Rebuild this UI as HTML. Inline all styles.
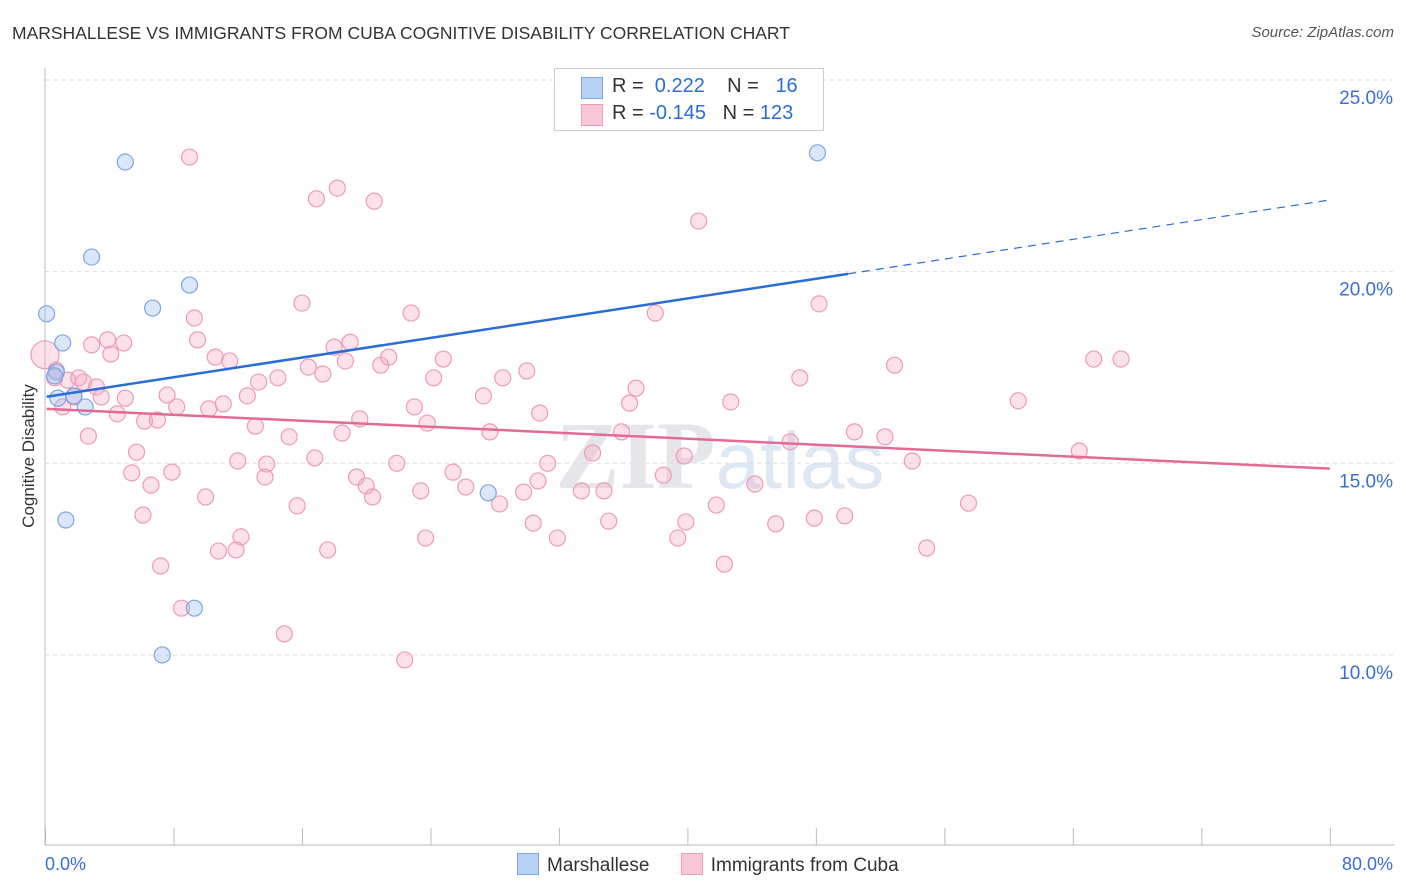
<!DOCTYPE html>
<html><head><meta charset="utf-8"><style>
body{margin:0;background:#fff;font-family:"Liberation Sans",sans-serif;}
#wrap{position:relative;width:1406px;height:892px;overflow:hidden;}
.t{position:absolute;white-space:nowrap;}
</style></head><body>
<div id="wrap">
<div class="t" style="left:12px;top:23px;font-size:17.5px;color:#333;">MARSHALLESE VS IMMIGRANTS FROM CUBA COGNITIVE DISABILITY CORRELATION CHART</div>
<div class="t" style="right:12px;top:24px;font-size:15px;color:#555;font-style:italic;">Source: ZipAtlas.com</div>
<svg id="svg" width="1406" height="892" style="position:absolute;left:0;top:0"></svg>
</div>
<script>
const xTicks=[0,8,16,24,32,40,48,56,64,72,80];
const yTicks=[10,15,20,25];
const yTickLabels=["10.0%","15.0%","20.0%","25.0%"];
const blueX=[0.1,1.1,0.7,0.8,1.8,2.5,0.6,5.0,2.9,6.7,9.0,1.3,9.3,7.3,27.6,48.1];
const blueY=[18.9,18.14,17.38,16.7,16.76,16.47,17.28,22.86,20.38,19.05,19.65,13.52,11.22,10.0,14.23,23.1];
const pinkX=[9.0,16.9,18.2,20.5,40.7,16.0,22.8,9.3,38.0,48.2,0,3.9,2.9,4.9,9.5,4.1,10.6,11.5,18.0,19.0,18.7,20.9,21.4,24.8,16.4,17.3,0.7,1.4,2.1,3.2,2.4,0.6,1.1,1.8,3.5,5.0,7.6,8.2,13.3,14.5,12.6,11.1,10.2,24.2,28.5,30.0,36.8,36.4,42.7,47.0,52.9,65.3,67.0,60.6,27.3,23.0,23.8,30.8,19.6,4.5,6.2,7.0,2.7,13.1,15.2,18.5,27.7,35.9,46.4,50.4,52.3,64.4,54.0,5.7,13.8,16.8,21.9,31.3,39.8,12.0,5.4,7.9,13.7,19.4,20.0,25.4,26.2,30.7,34.1,6.6,10.0,15.7,20.4,23.4,29.8,28.3,33.4,34.8,38.5,44.2,41.8,57.5,6.1,35.1,39.9,45.5,47.9,49.8,30.4,31.9,39.4,12.2,10.8,11.9,17.6,23.7,54.9,7.2,42.3,8.5,14.9,22.4];
const pinkY=[22.99,21.9,22.18,21.84,21.32,19.18,18.92,18.79,18.92,19.16,17.83,18.22,18.09,18.14,18.22,17.85,17.77,17.67,18.03,18.16,17.67,17.56,17.77,17.72,17.51,17.33,17.43,17.17,17.23,16.99,17.12,17.23,16.47,16.73,16.73,16.7,16.78,16.47,17.12,17.23,16.76,16.55,16.42,17.23,17.23,17.41,16.96,16.57,16.6,17.23,17.56,17.72,17.72,16.63,16.76,16.47,16.05,16.31,16.16,16.29,16.1,16.13,15.71,15.97,15.69,15.79,15.82,15.82,15.56,15.82,15.69,15.32,15.06,15.29,14.98,15.14,15.0,15.0,15.19,15.06,14.75,14.77,14.64,14.64,14.41,14.77,14.38,14.54,15.27,14.43,14.12,13.89,14.12,14.28,14.25,13.94,14.28,14.28,14.69,14.46,13.91,13.96,13.65,13.49,13.47,13.42,13.57,13.63,13.44,13.05,13.05,13.08,12.71,12.74,12.74,13.05,12.79,12.32,12.37,11.22,10.55,9.87];
const blueTrend=[16.73,21.87]; const blueSolidEnd=50;
const pinkTrend=[16.42,14.86];
const X=v=>45+v*16.06, Y=v=>80+(25-v)*38.33;
const svg=document.getElementById('svg');const NS='http://www.w3.org/2000/svg';
function mk(tag,attrs,parent){const e=document.createElementNS(NS,tag);for(const k in attrs)e.setAttribute(k,attrs[k]);(parent||svg).appendChild(e);return e;}
let wm=mk('text',{x:720,y:488,'text-anchor':'middle','font-size':96,'font-family':'Liberation Serif,serif','fill':'#e6e6ea','font-weight':'bold'});


wm.innerHTML='ZIP<tspan fill="#dde8f4" font-family="Liberation Sans,sans-serif" font-weight="normal" font-size="80">atlas</tspan>';
yTicks.forEach((t,i)=>{
 const g=mk('line',{x1:45,x2:1395,y1:Y(t),y2:Y(t),stroke:'#ddd','stroke-dasharray':'4,4'});
 
 
 const l=mk('text',{x:1393,y:Y(t)+24,'text-anchor':'end','font-size':19,fill:'#3a6fd0','font-family':'Liberation Sans,sans-serif'});
 
 
 l.textContent=yTickLabels[i];
});
const ax=mk('line',{x1:45,x2:45,y1:68,y2:845,stroke:'#bbb'});


const bx=mk('line',{x1:45,x2:1395,y1:845,y2:845,stroke:'#bbb'});


xTicks.forEach(t=>{const k=mk('line',{x1:X(t)+0.5,x2:X(t)+0.5,y1:828,y2:845,stroke:'#bbb'});
 
 });
const xl=mk('text',{x:45,y:870,'font-size':18,fill:'#3a6fd0'});xl.textContent='0.0%';


const xr=mk('text',{x:1393,y:870,'text-anchor':'end','font-size':18,fill:'#3a6fd0'});xr.textContent='80.0%';


const yt=mk('text',{x:34,y:456,'text-anchor':'middle','font-size':17,fill:'#333',transform:'rotate(-90 34 456)'});yt.textContent='Cognitive Disability';


pinkX.forEach((x,i)=>{const c=mk('circle',{cx:X(x),cy:Y(pinkY[i]),r:i==10?14:8,fill:'rgba(246,170,196,0.35)',stroke:'#ec9bb7','stroke-width':1.2});
 
 });
blueX.forEach((x,i)=>{const c=mk('circle',{cx:X(x),cy:Y(blueY[i]),r:8,fill:'rgba(160,195,240,0.4)',stroke:'#7fa6de','stroke-width':1.2});
 
 });
const bt=v=>blueTrend[0]+(blueTrend[1]-blueTrend[0])*v/80;
const b1=mk('line',{x1:X(0.1),y1:Y(bt(0.1)),x2:X(blueSolidEnd),y2:Y(bt(blueSolidEnd)),stroke:'#2a6dd6','stroke-width':2.5});


const b2=mk('line',{x1:X(blueSolidEnd),y1:Y(bt(blueSolidEnd)),x2:X(80),y2:Y(bt(80)),stroke:'#2a6dd6','stroke-width':1.2,'stroke-dasharray':'8,6'});


const p1=mk('line',{x1:X(0.1),y1:Y(pinkTrend[0]),x2:X(80),y2:Y(pinkTrend[1]),stroke:'#e36a96','stroke-width':2.5});


</script>
<div class="t" style="left:554px;top:68px;width:268px;height:61px;border:1px solid #ccc;background:#fff;font-size:20px;color:#333;">
 <div style="position:absolute;left:26px;top:8px;width:20px;height:20px;background:#b9d3f5;border:1px solid #7fa6de;"></div>
 <div class="t" style="left:57px;top:6px;">R = &nbsp;<span style="color:#2a6dd6">0.222</span>&nbsp;&nbsp;&nbsp; N = &nbsp;&nbsp;<span style="color:#2a6dd6">16</span></div>
 <div style="position:absolute;left:26px;top:35px;width:20px;height:20px;background:#f9c6d6;border:1px solid #ec9bb7;"></div>
 <div class="t" style="left:57px;top:33px;">R = <span style="color:#2a6dd6">-0.145</span>&nbsp;&nbsp; N = <span style="color:#2a6dd6">123</span></div>
</div>
<div class="t" style="left:517px;top:853px;font-size:19px;color:#333;">
 <span style="display:inline-block;width:20px;height:20px;background:#b9d3f5;border:1px solid #7fa6de;vertical-align:-4px;margin-right:8px;"></span><span>Marshallese</span>
 <span style="display:inline-block;width:20px;height:20px;background:#f9c6d6;border:1px solid #ec9bb7;vertical-align:-4px;margin:0 8px 0 26px;"></span><span>Immigrants from Cuba</span>
</div>
</body></html>
